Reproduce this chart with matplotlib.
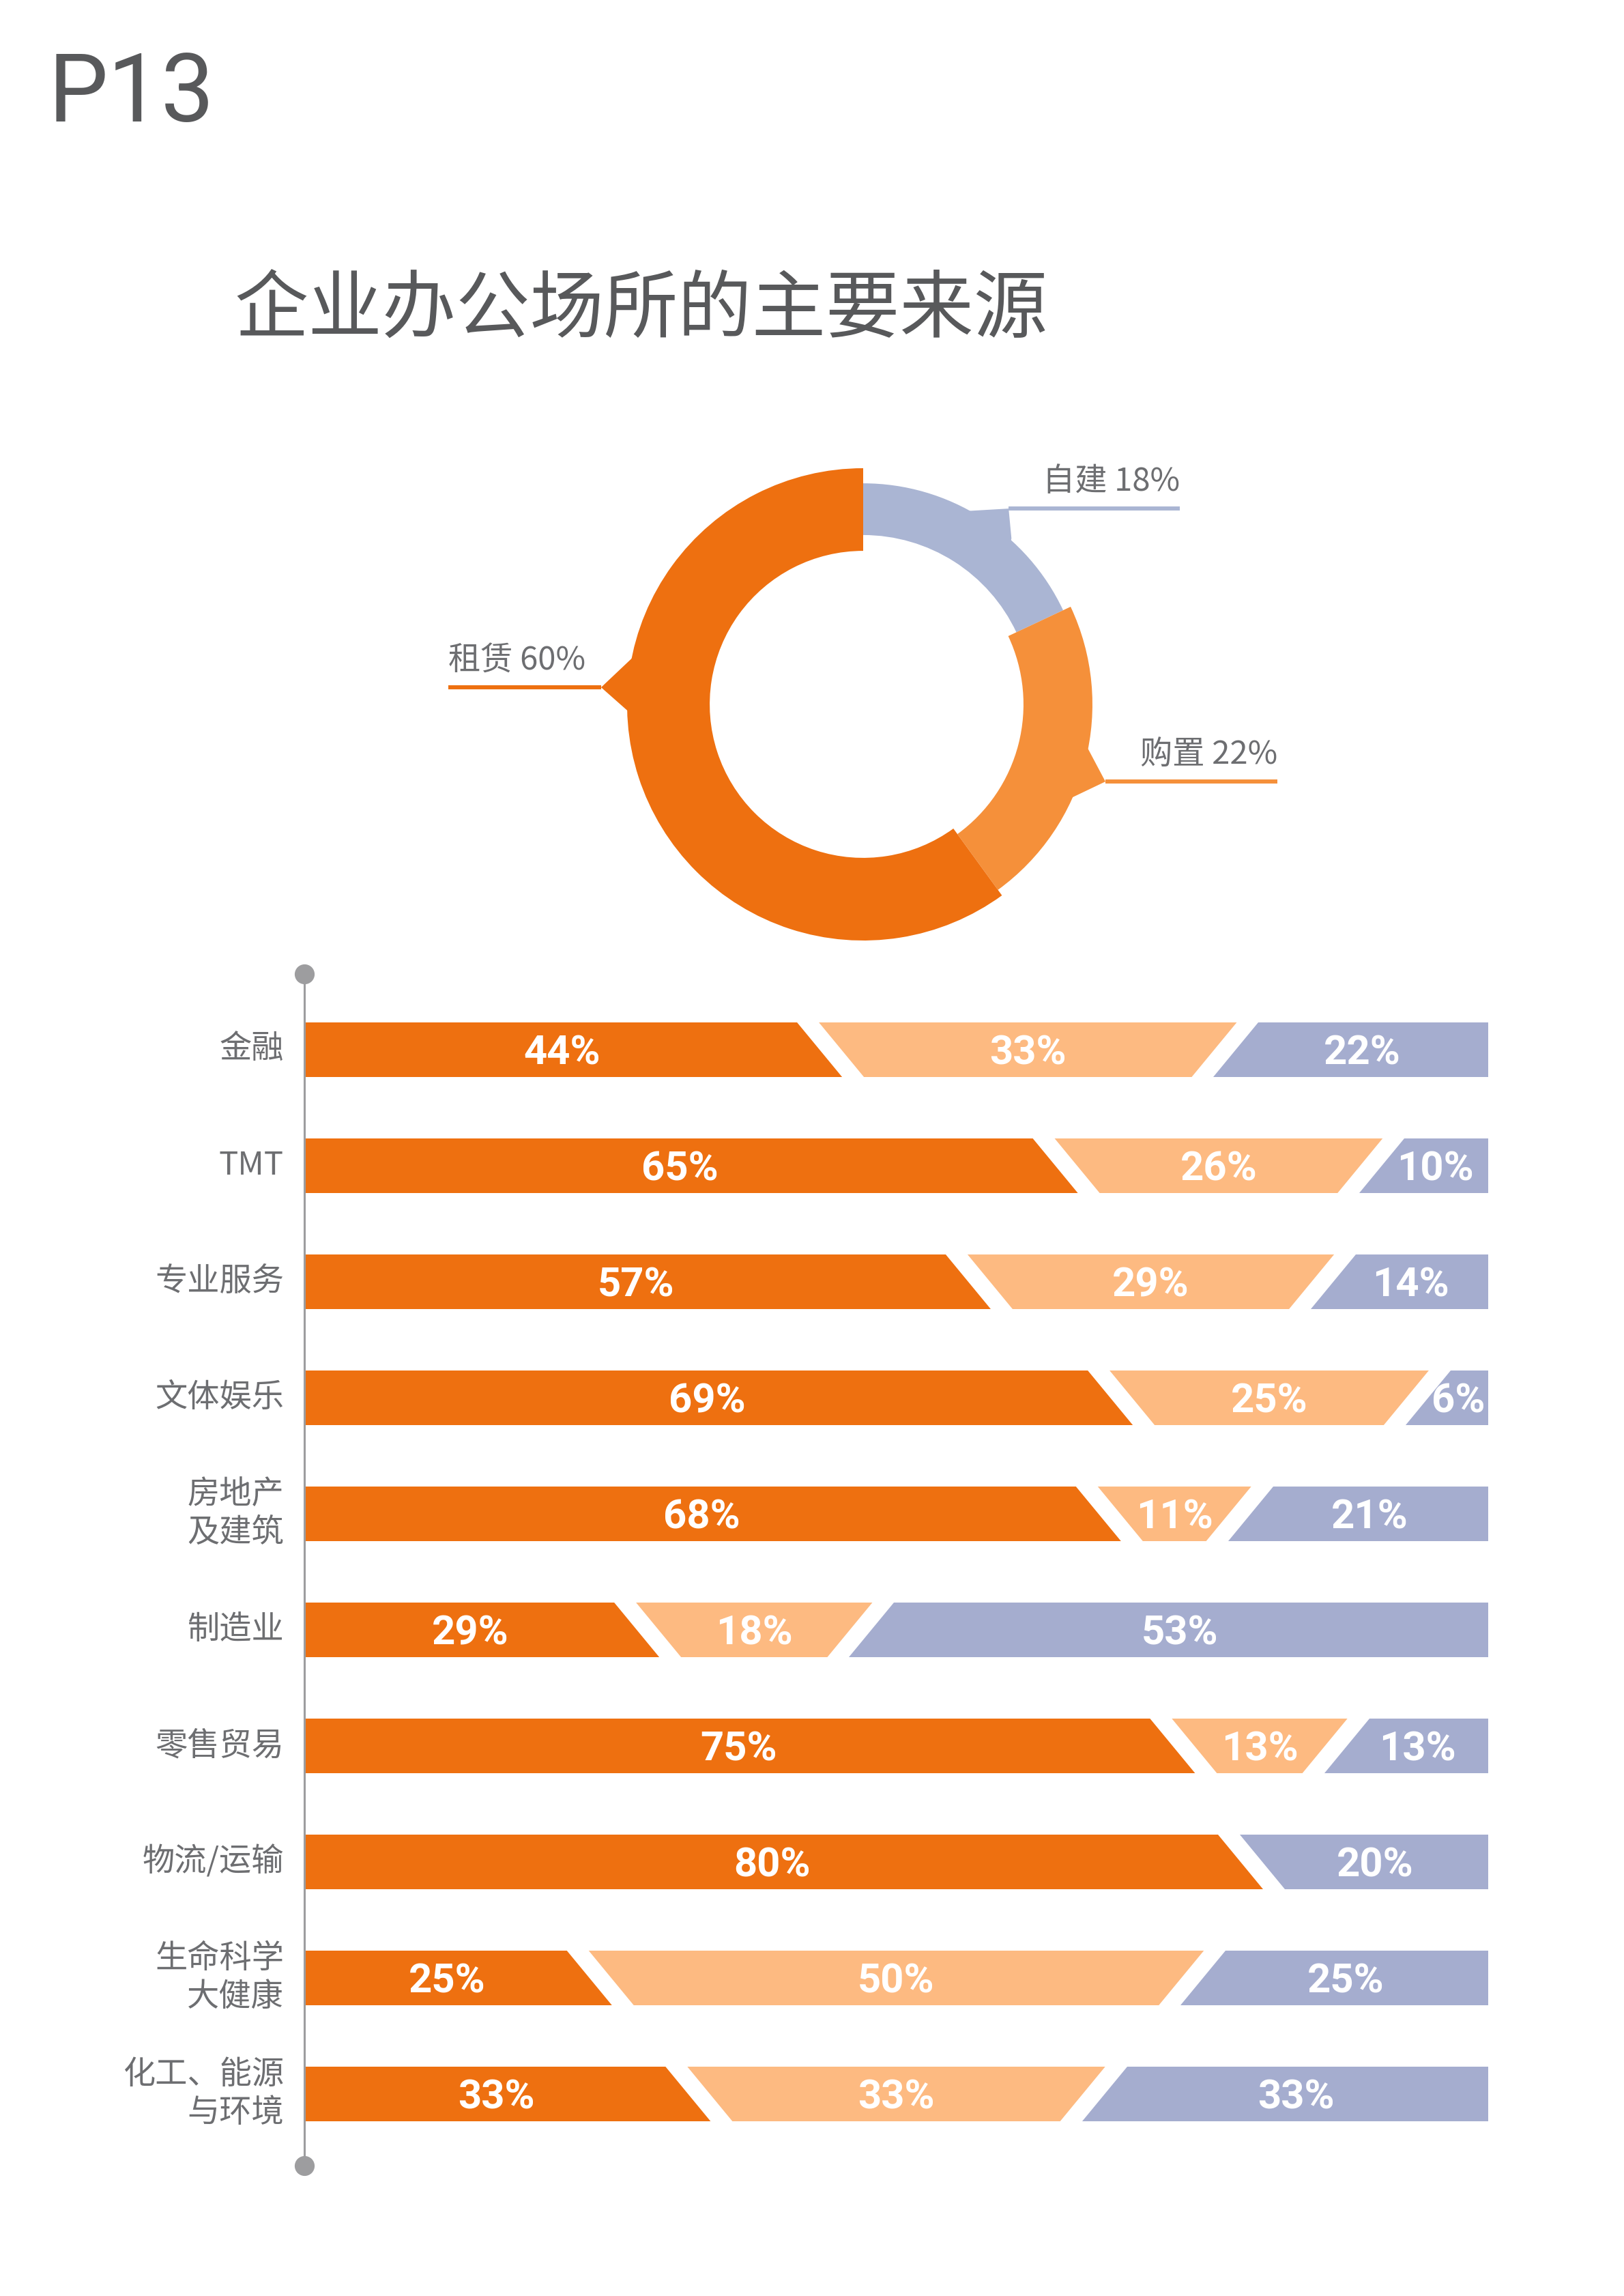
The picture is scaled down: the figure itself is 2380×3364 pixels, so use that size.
import numpy as np
import matplotlib
matplotlib.use("Agg")
import matplotlib.pyplot as plt
from matplotlib.patches import Wedge, Polygon

plt.rcParams['font.family'] = ['Noto Sans CJK SC', 'DejaVu Sans']
NARROW = ['Roboto', 'DejaVu Sans']

# ---------------- data ----------------
page_label = "P13"
title = "企业办公场所的主要来源"

donut_labels = ["自建", "购置", "租赁"]          # clockwise from 12 o'clock
donut_values = [18, 22, 60]

industries = ["金融", "TMT", "专业服务", "文体娱乐", "房地产\n及建筑", "制造业",
              "零售贸易", "物流/运输", "生命科学\n大健康", "化工、能源\n与环境"]
rent_pct = [44, 65, 57, 69, 68, 29, 75, 80, 25, 33]
buy_pct = [33, 26, 29, 25, 11, 18, 13, 0, 50, 33]
self_pct = [22, 10, 14, 6, 21, 53, 13, 20, 25, 33]

# ---------------- style ----------------
W, H = 2380, 3364
GRAY_TXT = "#6d6e71"
DARK_TXT = "#58595b"
bar_colors = ["#EE7010", "#FDBA81", "#A5ADCF"]
donut_colors = {"自建": "#AAB5D3", "购置": "#F5903A", "租赁": "#EE7010"}
donut_radii = {"自建": (0.717, 0.936), "购置": (0.679, 0.971), "租赁": (0.650, 1.0)}

fig = plt.figure(figsize=(W / 100, H / 100), dpi=100)
fig.patch.set_facecolor("white")

# page number and title
fig.text(70 / W, 1 - 178 / H, page_label, fontsize=100, color=DARK_TXT,
         family=NARROW, fontweight='normal', va='baseline', ha='left')
fig.text(343 / W, 1 - 456 / H, title, fontsize=78, color=DARK_TXT,
         va='center', ha='left', fontweight='light')

# ---------------- donut ----------------
cx_px, cy_px, R_px = 1265, 1032, 346
ax_l, ax_r, ax_t, ax_b = 600, 1930, 640, 1420
dax = fig.add_axes([ax_l / W, 1 - ax_b / H, (ax_r - ax_l) / W, (ax_b - ax_t) / H])
dax.set_xlim((ax_l - cx_px) / R_px, (ax_r - cx_px) / R_px)
dax.set_ylim(-(ax_b - cy_px) / R_px, (cy_px - ax_t) / R_px)
dax.axis('off')

start = 90.0
for lab, val in zip(donut_labels, donut_values):
    t2 = start
    t1 = start - val * 3.6
    rin, rout = donut_radii[lab]
    dax.add_patch(Wedge((0, 0), rout, t1, t2, width=rout - rin,
                        facecolor=donut_colors[lab], edgecolor='none'))
    start = t1

# callouts: base angles on the ring, tip point, end of leader line, text alignment
callouts = {
    "自建": dict(a=(62.2, 47.6), r=0.925, tip=(0.616, 0.829), end=1.341, ha='right'),
    "购置": dict(a=(-10.0, -25.0), r=0.955, tip=(1.026, -0.327), end=1.754, ha='right'),
    "租赁": dict(a=(168.0, 182.0), r=0.99, tip=(-1.110, 0.072), end=-1.757, ha='left'),
}
for lab, val in zip(donut_labels, donut_values):
    c = callouts[lab]
    col = donut_colors[lab]
    p1 = (c['r'] * np.cos(np.radians(c['a'][0])), c['r'] * np.sin(np.radians(c['a'][0])))
    p2 = (c['r'] * np.cos(np.radians(c['a'][1])), c['r'] * np.sin(np.radians(c['a'][1])))
    tx, ty = c['tip']
    if lab == "自建":
        pts = [p1, (tx, ty), (tx + 0.012, p2[1] + 0.02), p2, (0.5, 0.6)]
    else:
        pts = [p1, (tx, ty), p2, (0.9 * (p1[0] + p2[0]) / 2, 0.9 * (p1[1] + p2[1]) / 2)]
    dax.add_patch(Polygon(pts, closed=True, facecolor=col, edgecolor='none'))
    dax.plot([tx, c['end']], [ty, ty], color=col, lw=4.3, solid_capstyle='butt')
    dax.text(c['end'], ty + 0.045, f"{lab} {val}%", ha=c['ha'], va='bottom',
             fontsize=34, color=GRAY_TXT, fontweight='light')

# ---------------- stacked bars ----------------
bx0, bx1 = 446, 2181
by_top, by_bot = 1427, 3173
row0, pitch = 1538, 170
bax = fig.add_axes([bx0 / W, 1 - by_bot / H, (bx1 - bx0) / W, (by_bot - by_top) / H])
bax.set_xlim(0, 100)
bax.set_ylim((by_bot - row0) / pitch, (by_top - row0) / pitch)
for s in ['top', 'right', 'bottom']:
    bax.spines[s].set_visible(False)
bax.spines['left'].set_color('#9d9d9f')
bax.spines['left'].set_linewidth(2.2)
bax.set_xticks([])
bax.set_yticks([])
bax.patch.set_alpha(0)

bar_h = 80 / pitch
gap = 32 / (bx1 - bx0) * 100
slant = 33 / (bx1 - bx0) * 100

for i, name in enumerate(industries):
    vals = [rent_pct[i], buy_pct[i], self_pct[i]]
    segs = [(v, bar_colors[k]) for k, v in enumerate(vals) if v > 0]
    tot = sum(v for v, _ in segs)
    cum = np.cumsum([0] + [v / tot * 100 for v, _ in segs])
    top, bot = i - bar_h / 2, i + bar_h / 2
    n = len(segs)
    for k, (v, col) in enumerate(segs):
        if k == 0:
            lt, lb = 0.0, 0.0
        else:
            b = cum[k]
            sgn = 1 if (k - 1) % 2 == 0 else -1   # '\' then '/'
            lt = b + gap / 2 - sgn * slant
            lb = b + gap / 2 + sgn * slant
        if k == n - 1:
            rt, rb = 100.0, 100.0
        else:
            b = cum[k + 1]
            sgn = 1 if k % 2 == 0 else -1
            rt = b - gap / 2 - sgn * slant
            rb = b - gap / 2 + sgn * slant
        bax.add_patch(Polygon([(lt, top), (rt, top), (rb, bot), (lb, bot)], closed=True,
                              facecolor=col, edgecolor='none'))
        xc = (lt + lb + rt + rb) / 4
        bax.text(xc, i + 0.03, f"{v}%", ha='center', va='center', color='white',
                 fontsize=43, fontweight='bold', family=NARROW)
    bax.text(-1.73, i, name, ha='right', va='center', multialignment='right',
             fontsize=34, color=GRAY_TXT, linespacing=1.2, fontweight='light')

ylo, yhi = bax.get_ylim()
bax.plot([0, 0], [ylo, yhi], 'o', color='#9d9d9f', ms=20, clip_on=False, zorder=5)

fig.savefig("out.png", dpi=100, facecolor='white')
